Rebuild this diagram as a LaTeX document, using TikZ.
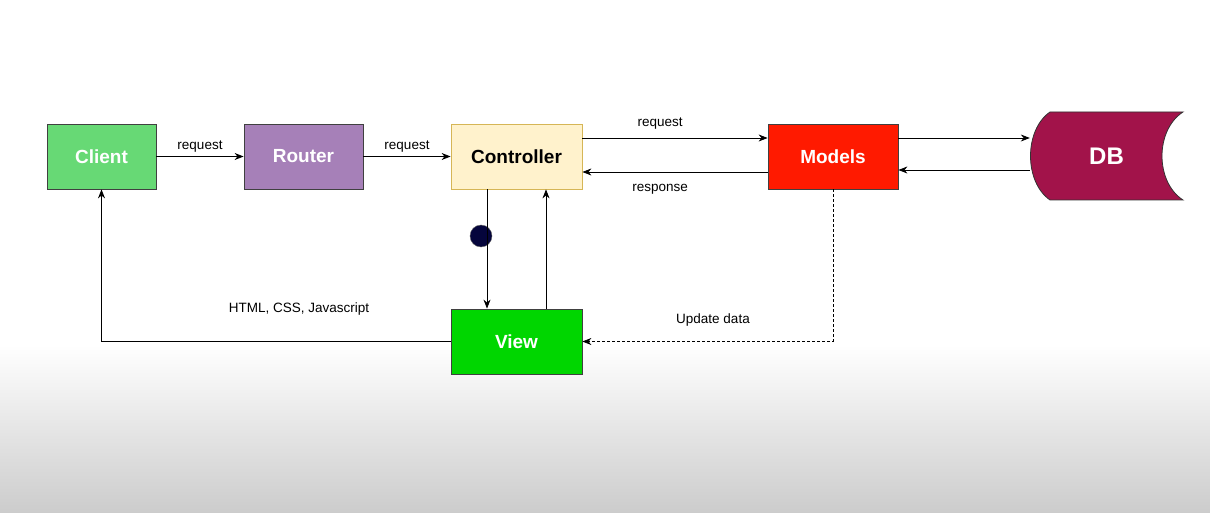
\documentclass[tikz,border=0pt]{standalone}
\usepackage{fontspec}
\setmainfont{Liberation Sans}
\usetikzlibrary{arrows.meta}
\definecolor{clientgreen}{RGB}{103,217,117}
\definecolor{routerpurple}{RGB}{166,128,184}
\definecolor{ctrlfill}{RGB}{255,242,204}
\definecolor{ctrldraw}{RGB}{214,182,86}
\definecolor{modelred}{RGB}{255,26,0}
\definecolor{viewgreen}{RGB}{0,214,0}
\definecolor{dbred}{RGB}{162,19,74}
\definecolor{dotnavy}{RGB}{5,5,60}
\begin{document}
\begin{tikzpicture}[x=1pt,y=-1pt,
  box/.style={draw=black!75,line width=0.8pt,minimum height=65pt,inner sep=0pt,
    font=\fontsize{19}{22}\selectfont\bfseries,text=white},
  lbl/.style={font=\fontsize{13.5}{16}\selectfont,inner sep=1pt},
  arr/.style={-{Stealth[length=9pt,width=7pt]},line width=0.8pt}]
\useasboundingbox (0,0) rectangle (1210,513);
\shade[top color=white,bottom color=black!20] (0,345) rectangle (1210,513);
%boxes
\node[box,fill=clientgreen,minimum width=109pt] (client) at (101.5,156.5) {Client};
\node[box,fill=routerpurple,minimum width=119pt] (router) at (303.5,156.5) {Router};
\node[box,fill=ctrlfill,draw=ctrldraw,text=black,minimum width=131pt] (controller) at (516.5,156.5) {Controller};
\node[box,fill=modelred,minimum width=130pt] (models) at (833,156.5) {Models};
\node[box,fill=viewgreen,minimum width=131pt] (view) at (516.5,341.5) {View};
%DB
\node[minimum width=153pt,minimum height=88pt,inner sep=0pt] (db) at (1106.5,156.5) {};
\draw[fill=dbred,draw=black!80,line width=0.8pt] (1050,112) -- (1183,112)
  .. controls (1155,130) and (1155,182) .. (1183,200) -- (1050,200)
  .. controls (1024,182) and (1024,130) .. (1050,112);
\node[font=\fontsize{24}{28}\selectfont\bfseries,text=white] (dbtext) at (db.center) {DB};
\node[circle,fill=dotnavy,draw=black!60,minimum size=22pt,inner sep=0pt] (dot) at (481,236) {};
%connectors
\draw[arr] (client) -- node[lbl,above=3pt] (lreqa) {request} (router);
\draw[arr] (router) -- node[lbl,above=3pt] (lreqb) {request} (controller);
\draw[arr] ([yshift=18.5pt]controller.east) -- node[lbl,above=7pt,pos=0.42] (lreqc) {request} ([yshift=18.5pt]models.west);
\draw[arr] ([yshift=-15.5pt]models.west) -- node[lbl,below=11pt,pos=0.58] (lresp) {response} ([yshift=-15.5pt]controller.east);
\draw[arr] ([yshift=18.5pt]models.east) -- ([yshift=18.5pt]db.west);
\draw[arr] ([yshift=-13.5pt]db.west) -- ([yshift=-13.5pt]models.east);
\draw[arr] ([xshift=-29.5pt]controller.south) -- ([xshift=-29.5pt]view.north);
\draw[arr] ([xshift=29.5pt]view.north) -- ([xshift=29.5pt]controller.south);
\draw[arr] (view.west) -| (client.south);
\draw[arr,densely dashed,line width=0.6pt] (models.south) |- (view.east);
\node[lbl] (lhtml) at (299,309) {HTML, CSS, Javascript};
\node[lbl] (lupd) at (713,320) {Update data};
\end{tikzpicture}
\end{document}
